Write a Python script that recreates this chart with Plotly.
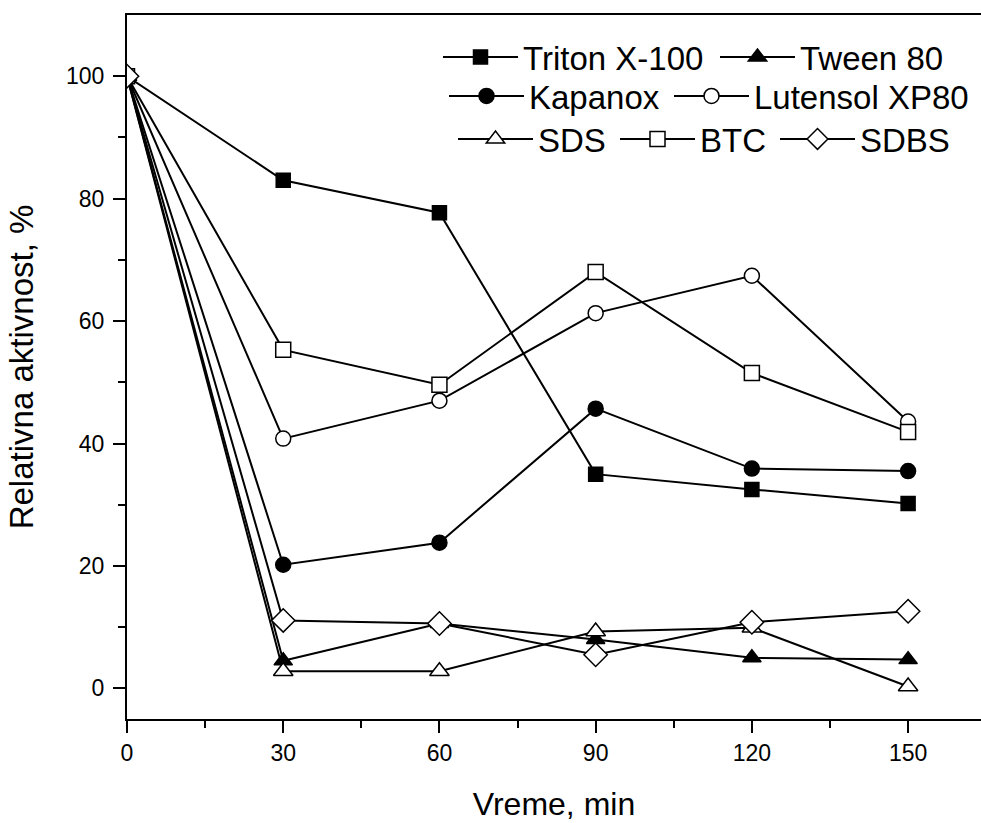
import plotly.graph_objects as go

time_min = [0, 30, 60, 90, 120, 150]

triton_x100 = [100, 83.0, 77.7, 35.0, 32.5, 30.2]
tween_80 = [100, 4.5, 10.6, 8.0, 5.0, 4.7]
kapanox = [100, 20.2, 23.8, 45.7, 35.9, 35.5]
lutensol_xp80 = [100, 40.8, 47.0, 61.3, 67.4, 43.6]
sds = [100, 2.8, 2.8, 9.3, 9.9, 0.3]
btc = [100, 55.3, 49.6, 68.0, 51.5, 41.9]
sdbs = [100, 11.1, 10.6, 5.5, 10.8, 12.6]

x_ticks = [0, 30, 60, 90, 120, 150]
y_ticks = [0, 20, 40, 60, 80, 100]

FONT = "Liberation Sans, Arial, Helvetica, sans-serif"

W, H = 981, 823
ML, MR, MT, MB = 127, 0, 15, 104
PW, PH = W - ML - MR, H - MT - MB

# (name, values, symbol, fill, size, legend line-start px, legend row center px)
series = [
    ("Triton X-100", triton_x100, "square", "black", 14, 443, 57),
    ("Tween 80", tween_80, "triangle-up", "black", 16, 720, 57),
    ("Kapanox", kapanox, "circle", "black", 15, 449, 96),
    ("Lutensol XP80", lutensol_xp80, "circle", "white", 15, 674, 96),
    ("SDS", sds, "triangle-up", "white", 17, 458, 139),
    ("BTC", btc, "square", "white", 15, 620, 139),
    ("SDBS", sdbs, "diamond", "white", 18, 780, 139),
]

fig = go.Figure()
legends = {}
for i, (name, vals, sym, fill, size, lx, ly) in enumerate(series):
    key = "legend" if i == 0 else f"legend{i + 1}"
    fig.add_trace(go.Scatter(
        x=time_min, y=vals, name=name, mode="lines+markers",
        line=dict(color="black", width=2),
        marker=dict(symbol=sym, size=size, color=fill,
                    line=dict(color="black", width=1.5)),
        legend=key,
    ))
    legends[key] = dict(
        x=(lx - 5 - ML) / PW, y=1 - (ly - MT) / PH,
        xanchor="left", yanchor="middle", orientation="h",
        bgcolor="rgba(0,0,0,0)", borderwidth=0,
        font=dict(family=FONT, size=33, color="black"),
        itemwidth=75,
    )

fig.update_layout(
    width=W, height=H,
    margin=dict(l=ML, r=MR, t=MT, b=MB, autoexpand=False),
    paper_bgcolor="white", plot_bgcolor="white",
    font=dict(family=FONT, color="black"),
    showlegend=True,
    **legends,
    xaxis=dict(
        range=[0, 164], tickvals=x_ticks, ticktext=[str(v) for v in x_ticks],
        ticks="outside", ticklen=12, tickwidth=2, tickcolor="black",
        showline=True, linewidth=2, linecolor="black", mirror=True,
        showgrid=False, zeroline=False, automargin=False,
        tickfont=dict(family=FONT, size=23),
        ticklabelstandoff=0,
        minor=dict(tickvals=[15, 45, 75, 105, 135], ticks="outside", ticklen=7,
                   tickwidth=2, tickcolor="black", showgrid=False),
        title=dict(text="Vreme, min", font=dict(family=FONT, size=32), standoff=28),
    ),
    yaxis=dict(
        range=[-5, 110], tickvals=y_ticks, ticktext=[str(v) for v in y_ticks],
        ticks="outside", ticklen=12, tickwidth=2, tickcolor="black",
        showline=True, linewidth=2, linecolor="black", mirror=False,
        showgrid=False, zeroline=False, automargin=False,
        tickfont=dict(family=FONT, size=23),
        ticklabelstandoff=4,
        minor=dict(tickvals=[10, 30, 50, 70, 90], ticks="outside", ticklen=7,
                   tickwidth=2, tickcolor="black", showgrid=False),
        title=dict(text="Relativna aktivnost, %", font=dict(family=FONT, size=33), standoff=22),
    ),
)

fig.write_html(
    "out.html",
    config={"displayModeBar": False},
    post_script="document.body.style.margin='0';document.body.style.overflow='hidden';"
                "document.documentElement.style.overflow='hidden';",
)
